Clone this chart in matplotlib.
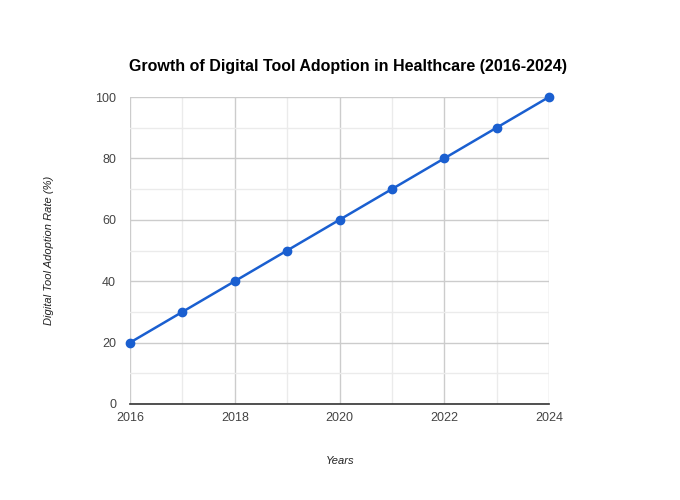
import matplotlib
matplotlib.use("Agg")
from matplotlib import pyplot as plt
from matplotlib.ticker import MultipleLocator

years = [2016, 2017, 2018, 2019, 2020, 2021, 2022, 2023, 2024]
adoption_rate = [20, 30, 40, 50, 60, 70, 80, 90, 100]

plt.rcParams['font.family'] = ['Liberation Sans', 'DejaVu Sans']

fig = plt.figure(figsize=(6.8, 5.0), dpi=100)
ax = fig.add_axes([130 / 680, 1 - 404 / 500, 419 / 680, 307 / 500])

ax.plot(years, adoption_rate, color='#1a5fd0', linewidth=1.8, marker='o',
        markersize=6, zorder=3, clip_on=False)

ax.set_xlim(2016, 2024)
ax.set_ylim(0, 100)
ax.xaxis.set_major_locator(MultipleLocator(2))
ax.xaxis.set_minor_locator(MultipleLocator(1))
ax.yaxis.set_major_locator(MultipleLocator(20))
ax.yaxis.set_minor_locator(MultipleLocator(10))
ax.grid(True, which='major', color='#cccccc', linewidth=1)
ax.grid(True, which='minor', color='#ebebeb', linewidth=1)
ax.set_axisbelow(True)

ax.tick_params(which='both', length=0, labelsize=9, colors='#444444')
ax.tick_params(axis='x', pad=6)
ax.tick_params(axis='y', pad=10)

for side in ['top', 'right', 'left']:
    ax.spines[side].set_visible(False)
ax.spines['bottom'].set_color('#333333')
ax.spines['bottom'].set_linewidth(1.2)

fig.text(348 / 680, 1 - 67 / 500, 'Growth of Digital Tool Adoption in Healthcare (2016-2024)',
         ha='center', va='center', fontsize=11.5, fontweight='bold', color='#000000')
fig.text(340 / 680, 1 - 461 / 500, 'Years', ha='center', va='center',
         fontsize=8, style='italic', color='#222222')
fig.text(49 / 680, 1 - 250 / 500, 'Digital Tool Adoption Rate (%)', ha='center', va='center',
         rotation=90, fontsize=8, style='italic', color='#222222')

fig.savefig('out.png', dpi=100)
